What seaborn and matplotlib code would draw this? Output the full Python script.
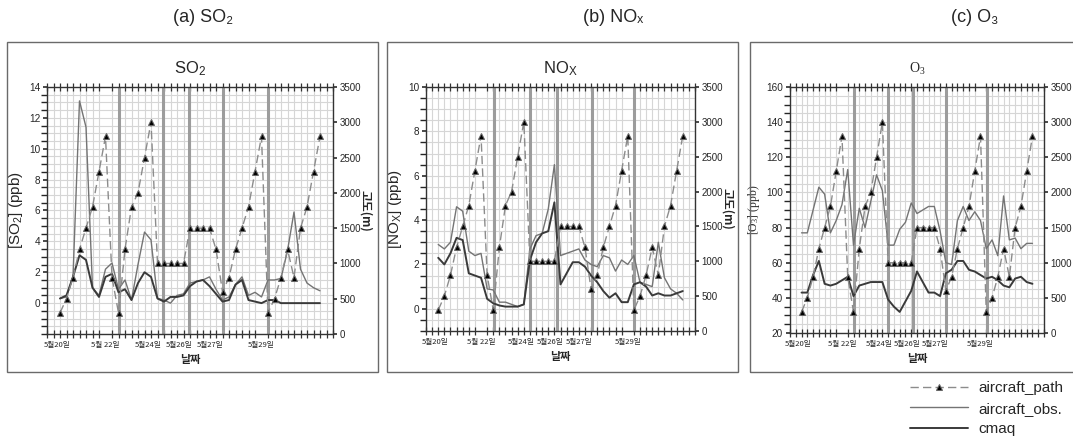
import matplotlib.pyplot as plt
import seaborn as sns
from matplotlib.patches import Rectangle
from matplotlib.ticker import MultipleLocator

sns.set_theme(style='white')
plt.rcParams['font.family'] = ['Liberation Sans', 'Noto Sans CJK KR', 'DejaVu Sans']
plt.rcParams['mathtext.default'] = 'regular'

# sample number along the flights (41 samples)
sample = list(range(41))

# aircraft altitude (m), same track in every panel
aircraft_path = [300, 500, 800, 1200, 1500, 1800, 2300, 2800, 800, 300,
                 1200, 1800, 2000, 2500, 3000, 1000, 1000, 1000, 1000, 1000,
                 1500, 1500, 1500, 1500, 1200, 600, 800, 1200, 1500, 1800,
                 2300, 2800, 300, 500, 800, 1200, 800, 1500, 1800, 2300, 2800]

# SO2 (ppb)
so2_obs = [0.3, 0.4, 1.7, 13.1, 11.4, 1.0, 0.5, 2.2, 2.6, 0.9,
           1.5, 0.2, 2.5, 4.6, 4.1, 0.3, 0.2, 0.0, 0.5, 0.6,
           1.3, 1.4, 1.5, 1.7, 0.9, 0.2, 0.4, 1.2, 1.7, 0.5,
           0.7, 0.4, 1.5, 1.5, 1.6, 3.4, 5.9, 2.2, 1.3, 1.0, 0.8]
so2_cmaq = [0.3, 0.5, 1.7, 3.1, 2.8, 1.0, 0.4, 1.7, 1.9, 0.7,
            0.9, 0.2, 1.3, 2.0, 1.7, 0.3, 0.1, 0.4, 0.4, 0.5,
            1.1, 1.4, 1.5, 1.1, 0.6, 0.1, 0.2, 1.2, 1.5, 0.2,
            0.1, 0.0, 0.2, 0.2, 0.0, 0.0, 0.0, 0.0, 0.0, 0.0, 0.0]

# NOx (ppb)
nox_obs = [2.9, 2.7, 3.0, 4.6, 4.4, 2.6, 2.4, 2.5, 0.9, 0.85,
           0.3, 0.3, 0.2, 0.1, 0.2, 2.7, 3.3, 3.4, 4.5, 6.5,
           2.4, 2.5, 2.6, 2.7, 2.2, 2.0, 1.9, 2.4, 2.3, 1.7,
           2.2, 2.0, 2.4, 1.2, 1.1, 1.0, 3.0, 1.4, 0.9, 0.7, 0.4]
nox_cmaq = [2.3, 2.0, 2.5, 3.2, 3.1, 1.6, 1.5, 1.4, 0.45, 0.25,
            0.15, 0.1, 0.1, 0.1, 0.2, 2.2, 3.0, 3.4, 3.5, 4.8,
            1.1, 1.6, 2.1, 2.1, 1.9, 1.5, 1.2, 0.8, 0.5, 0.7,
            0.3, 0.3, 1.1, 1.2, 1.0, 0.6, 0.7, 0.6, 0.6, 0.7, 0.8]

# O3 (ppb)
o3_obs = [77, 77, 90, 103, 99, 77, 84, 93, 113, 70,
          91, 80, 95, 110, 101, 70, 70, 79, 83, 94,
          88, 90, 92, 92, 78, 60, 59, 84, 92, 84,
          89, 84, 68, 73, 64, 98, 73, 74, 68, 71, 71]
o3_cmaq = [43, 43, 53, 61, 48, 47, 48, 50, 52, 41,
           47, 48, 49, 49, 49, 39, 35, 32, 38, 44,
           55, 49, 43, 43, 41, 54, 56, 61, 61, 56,
           55, 53, 51, 52, 50, 47, 46, 51, 52, 49, 48]

# day boundaries (sample position) for each panel
so2_breaks = [9.1, 15.8, 19.9, 25.0, 32.0]
nox_breaks = [9.1, 15.0, 19.5, 25.1, 32.0]
o3_breaks = [9.0, 15.0, 19.3, 25.1, 32.1]

date_pos = [-0.5, 7, 13.5, 18.3, 23.1, 31]
date_labels = ['5월20일', '5월 22일', '5월24일', '5월26일', '5월27일', '5월29일']

panels = [
    dict(obs=so2_obs, cmaq=so2_cmaq, breaks=so2_breaks, ylim=(-2, 14),
         yticks=range(0, 15, 2), minor=0.5, title='SO$_2$', ylabel='[SO$_2$] (ppb)',
         head='(a) SO₂', rlabel=True, serif=False),
    dict(obs=nox_obs, cmaq=nox_cmaq, breaks=nox_breaks, ylim=(-1, 10),
         yticks=range(0, 11, 2), minor=0.5, title='NO$_X$', ylabel='[NO$_X$] (ppb)',
         head='(b) NOₓ', rlabel=True, serif=False),
    dict(obs=o3_obs, cmaq=o3_cmaq, breaks=o3_breaks, ylim=(20, 160),
         yticks=range(20, 161, 20), minor=5, title='O$_3$', ylabel='[O$_3$] (ppb)',
         head='(c) O₃', rlabel=False, serif=True),
]

W, H = 1073, 440
fig = plt.figure(figsize=(W / 100, H / 100), dpi=100)

# plot areas in pixels: left, top, right, bottom
areas = [(47, 87, 333, 334), (426, 87, 695, 331), (790, 87, 1044, 333)]
boxes = [(7, 42, 378, 372), (387, 42, 738, 372), (750, 42, 1085, 372)]
heads_x = [203, 613, 975]

for p, (l, t, r, b), (bl, bt, br, bb), hx in zip(panels, areas, boxes, heads_x):
    # frame around each panel
    fig.patches.append(Rectangle((bl / W, 1 - bb / H), (br - bl) / W, (bb - bt) / H,
                                 transform=fig.transFigure, fill=False,
                                 edgecolor='#6a6a6a', lw=1.0))
    fig.text(hx / W, 1 - 17 / H, p['head'], ha='center', va='center', fontsize=13)

    ax = fig.add_axes([l / W, 1 - b / H, (r - l) / W, (b - t) / H])
    ax.set_axisbelow(True)
    for xb in p['breaks']:
        ax.axvline(xb, color='#9c9c9c', lw=2.2, zorder=1)

    sns.lineplot(x=sample, y=p['obs'], ax=ax, color='#747474', lw=1.0,
                 label='aircraft_obs.', legend=False, zorder=3)
    sns.lineplot(x=sample, y=p['cmaq'], ax=ax, color='#3a3a3a', lw=1.4,
                 label='cmaq', legend=False, zorder=3)

    ax.set_xlim(-2, 42)
    ax.set_ylim(*p['ylim'])
    ax.set_yticks(list(p['yticks']))
    ax.yaxis.set_minor_locator(MultipleLocator(p['minor']))
    ax.set_xticks(date_pos)
    ax.set_xticklabels(date_labels, fontsize=5.5, family=['Noto Sans CJK KR'])
    ax.xaxis.set_minor_locator(MultipleLocator(1))
    ax.xaxis.grid(True, which='minor', color='#d6d6d6', lw=0.8)
    ax.yaxis.grid(True, which='both', color='#d6d6d6', lw=0.8)
    ax.tick_params(axis='x', which='major', length=0, pad=5)
    ax.tick_params(axis='x', which='minor', top=True, bottom=True, direction='inout',
                   length=6, width=0.9, color='#333333')
    ax.tick_params(axis='y', which='major', left=True, direction='out', length=3,
                   labelsize=7.2, color='#333333', pad=2)
    ax.tick_params(axis='y', which='minor', left=False)
    for s in ax.spines.values():
        s.set_color('#333333')
        s.set_linewidth(1.0)

    tfont = ['Liberation Serif'] if p['serif'] else ['Liberation Sans']
    ax.set_title(p['title'], fontsize=12 if not p['serif'] else 10, pad=10, family=tfont)
    ax.set_ylabel(p['ylabel'], fontsize=11 if not p['serif'] else 8.5, family=tfont,
                  labelpad=3)
    ax.set_xlabel('날짜', fontsize=8, fontweight='bold', labelpad=3,
                  family=['Noto Sans CJK KR'])

    ax2 = ax.twinx()
    sns.lineplot(x=sample, y=aircraft_path, ax=ax2, color='#8c8c8c', lw=1.0,
                 linestyle=(0, (6, 3)), marker='^', markersize=5,
                 markerfacecolor='black', markeredgecolor='#666666',
                 label='aircraft_path', legend=False, zorder=4)
    ax2.set_ylim(0, 3500)
    ax2.set_yticks(range(0, 3501, 500))
    ax2.tick_params(axis='y', right=True, direction='out', length=3, labelsize=7,
                    color='#333333', pad=1.5)
    ax2.set_ylabel('고도(m)' if p['rlabel'] else '', rotation=270, fontsize=8.5,
                   fontweight='bold', labelpad=8, family=['Noto Sans CJK KR'])
    for s in ax2.spines.values():
        s.set_visible(False)

    handles = ax2.get_legend_handles_labels()[0] + ax.get_legend_handles_labels()[0]

fig.legend(handles, ['aircraft_path', 'aircraft_obs.', 'cmaq'], loc='upper right',
           bbox_to_anchor=(1.0, 1 - 372 / H), frameon=False, fontsize=11,
           handlelength=3.8, labelspacing=0.42, handletextpad=0.7,
           borderaxespad=0.2)

fig.savefig('out.png', dpi=100)
